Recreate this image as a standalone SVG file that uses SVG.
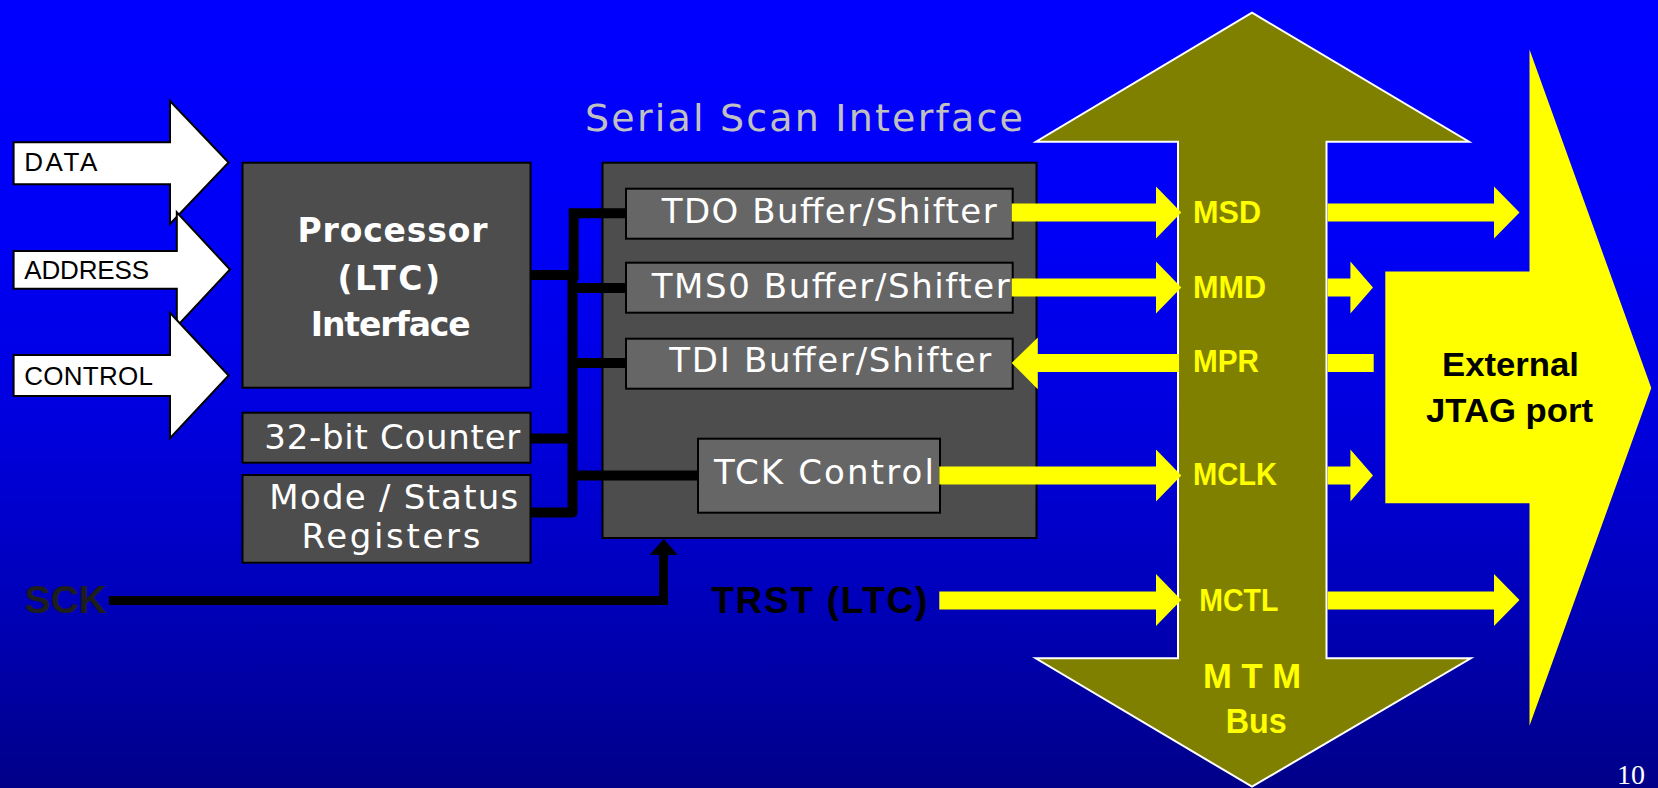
<svg xmlns="http://www.w3.org/2000/svg" width="1658" height="788" viewBox="0 0 1658 788">
<defs>
<linearGradient id="bg" gradientUnits="userSpaceOnUse" x1="0" y1="0" x2="0" y2="788">
<stop offset="0" stop-color="#0000FF"/>
<stop offset="0.3" stop-color="#0000F6"/>
<stop offset="0.55" stop-color="#0000DC"/>
<stop offset="0.75" stop-color="#0000BC"/>
<stop offset="1" stop-color="#000088"/>
</linearGradient>
<style>
.box{fill:#4D4D4D;stroke:#000;stroke-width:2}
.inner{fill:#666666;stroke:#000;stroke-width:2}
.inarrow{fill:#FFF;stroke:#000;stroke-width:2;stroke-linejoin:miter}
.wt{font-family:"DejaVu Sans","Liberation Sans",sans-serif;fill:#FFF;font-size:34px}
.wb{font-family:"DejaVu Sans","Liberation Sans",sans-serif;font-weight:bold;fill:#FFF;font-size:33px}
.lbl{font-family:"Liberation Sans",Arial,sans-serif;fill:#000;font-size:26px}
.yl{font-family:"Liberation Sans",Arial,sans-serif;font-weight:bold;fill:#FFFF00;font-size:32px}
.bk{font-family:"Liberation Sans",Arial,sans-serif;font-weight:bold;fill:#000}
.wire{fill:none;stroke:#000;stroke-width:10}
.yarrow{fill:#FFFF00;stroke:none}
</style>
</defs>
<rect x="0" y="0" width="1658" height="788" fill="url(#bg)"/>

<text x="585" y="131" textLength="438" lengthAdjust="spacing" style="font-family:'DejaVu Sans','Liberation Sans',sans-serif;font-size:38px;fill:#C0C0C0">Serial Scan Interface</text>

<g id="mtm-bus">
<polygon points="1252,12.7 1469,141.7 1326.5,141.7 1326.5,658.3 1470.8,658.3 1252,786.7 1035.7,658.3 1178,658.3 1178,141.7 1036,141.7" fill="#808000" stroke="#FFF" stroke-width="2"/>
<text class="yl" x="1193" y="222.7" textLength="68" lengthAdjust="spacingAndGlyphs">MSD</text>
<text class="yl" x="1193" y="298" textLength="73" lengthAdjust="spacingAndGlyphs">MMD</text>
<text class="yl" x="1193" y="372" textLength="66" lengthAdjust="spacingAndGlyphs">MPR</text>
<text class="yl" x="1193" y="484.7" textLength="84" lengthAdjust="spacingAndGlyphs">MCLK</text>
<text class="yl" x="1199.3" y="610.5" textLength="79" lengthAdjust="spacingAndGlyphs">MCTL</text>
<text class="yl" x="1203" y="688.3" textLength="98" lengthAdjust="spacingAndGlyphs" style="font-size:35px">M T M</text>
<text class="yl" x="1225.8" y="733.3" textLength="61" lengthAdjust="spacingAndGlyphs" style="font-size:35px">Bus</text>
</g>

<g id="jtag-port">
<polygon points="1385.3,271.5 1529.5,271.5 1529.5,49.5 1651.3,388 1529.5,725.7 1529.5,503.3 1385.3,503.3" fill="#FFFF00"/>
<text class="bk" x="1442" y="376" textLength="137" lengthAdjust="spacingAndGlyphs" style="font-size:33px">External</text>
<text class="bk" x="1426" y="422" textLength="167" lengthAdjust="spacingAndGlyphs" style="font-size:33px">JTAG port</text>
</g>

<g id="data-in">
<polygon class="inarrow" points="13.6,142.3 170,142.3 170,101 228.6,162.5 170,224 170,184.3 13.6,184.3"/>
<text class="lbl" x="24.3" y="170.7" textLength="73">DATA</text>
</g>
<g id="address-in">
<polygon class="inarrow" points="13.6,251 176.8,251 176.8,212.3 230,269.5 176.8,326.5 176.8,288.7 13.6,288.7"/>
<text class="lbl" x="24.3" y="278.7" textLength="124.7">ADDRESS</text>
</g>
<g id="control-in">
<polygon class="inarrow" points="13.6,355 170,355 170,312.7 228.6,375.5 170,438.3 170,396 13.6,396"/>
<text class="lbl" x="24.3" y="385" textLength="128.6">CONTROL</text>
</g>

<g id="processor">
<rect class="box" x="242.5" y="162.7" width="288" height="225"/>
<text class="wb" x="297.5" y="241.7" textLength="190">Processor</text>
<text class="wb" x="337.5" y="290" textLength="102.5">(LTC)</text>
<text class="wb" x="310.7" y="335.7" textLength="160">Interface</text>
</g>
<g id="counter">
<rect class="box" x="242.5" y="412.7" width="288" height="50"/>
<text class="wt" x="264.3" y="448.7" textLength="256" lengthAdjust="spacing">32-bit Counter</text>
</g>
<g id="mode-status">
<rect class="box" x="242.5" y="475" width="288" height="87.7"/>
<text class="wt" x="269.3" y="509.3" textLength="249" lengthAdjust="spacing">Mode / Status</text>
<text class="wt" x="301.4" y="548.3" textLength="179" lengthAdjust="spacing">Registers</text>
</g>

<g id="serial-scan">
<rect class="box" x="602.5" y="162.7" width="434" height="375.3"/>
</g>
<g id="tdo">
<rect class="inner" x="626" y="188.7" width="386.7" height="50"/>
<text class="wt" x="661.7" y="222.7" textLength="335" lengthAdjust="spacing">TDO Buffer/Shifter</text>
</g>
<g id="tms0">
<rect class="inner" x="626" y="262.7" width="386.7" height="50"/>
<text class="wt" x="651.7" y="298.3" textLength="358" lengthAdjust="spacing">TMS0 Buffer/Shifter</text>
</g>
<g id="tdi">
<rect class="inner" x="626" y="338.7" width="386.7" height="50"/>
<text class="wt" x="669.3" y="372.3" textLength="322" lengthAdjust="spacing">TDI Buffer/Shifter</text>
</g>
<g id="tck">
<rect class="inner" x="698" y="438.7" width="242" height="74"/>
<text class="wt" x="714" y="484" textLength="220" lengthAdjust="spacing">TCK Control</text>
</g>

<g id="sck-label">
<text class="bk" x="24.6" y="613.3" textLength="82" style="font-size:39px;fill:#1E1E1E">SCK</text>
</g>
<g id="trst-label">
<text class="bk" x="711.3" y="612.7" textLength="216" style="font-size:37px">TRST (LTC)</text>
</g>

<g id="connectors">
<path class="wire" d="M530,275 H573.7 V213.3 H626"/>
<path class="wire" d="M572.5,275 V512.5 H530" stroke-linejoin="round"/>
<path class="wire" d="M572.5,288 H626 M572.5,363 H626 M530,438.5 H572.5 M572.5,475.5 H698"/>
<path class="wire" d="M109,600.5 H663.5 V553" style="stroke-width:9"/>
<polygon points="649.5,555 677.8,555 663.7,539" fill="#000"/>

<path class="yarrow" d="M1011.7,203.5 H1156 V186.5 L1181.3,212.5 L1156,238.5 V221.5 H1011.7 Z"/>
<path class="yarrow" d="M1011.7,278.5 H1156 V261.5 L1181.3,287.5 L1156,313.5 V296.5 H1011.7 Z"/>
<path class="yarrow" d="M1179,354 H1037.8 V337.5 L1011.7,363 L1037.8,389.3 V372 H1179 Z"/>
<path class="yarrow" d="M939.3,466.5 H1156 V449.5 L1181.3,475.5 L1156,501.5 V484.5 H939.3 Z"/>
<path class="yarrow" d="M939.3,591.5 H1156 V574 L1181.3,600 L1156,626 V609.5 H939.3 Z"/>

<path class="yarrow" d="M1327.5,203.5 H1494 V186.5 L1519.5,212.5 L1494,238.5 V221.5 H1327.5 Z"/>
<path class="yarrow" d="M1327.5,278.5 H1350.4 V261.5 L1373,287.5 L1350.4,313.5 V296.5 H1327.5 Z"/>
<rect class="yarrow" x="1327.5" y="354" width="46.2" height="18"/>
<path class="yarrow" d="M1327.5,466.5 H1350.4 V449.5 L1373,475.5 L1350.4,501.5 V484.5 H1327.5 Z"/>
<path class="yarrow" d="M1327.5,591.5 H1494 V574 L1519.5,600 L1494,626 V609.5 H1327.5 Z"/>
</g>

<text x="1617" y="784" style="font-family:'Liberation Serif','Times New Roman',serif;font-size:28px;fill:#FFF">10</text>
</svg>
